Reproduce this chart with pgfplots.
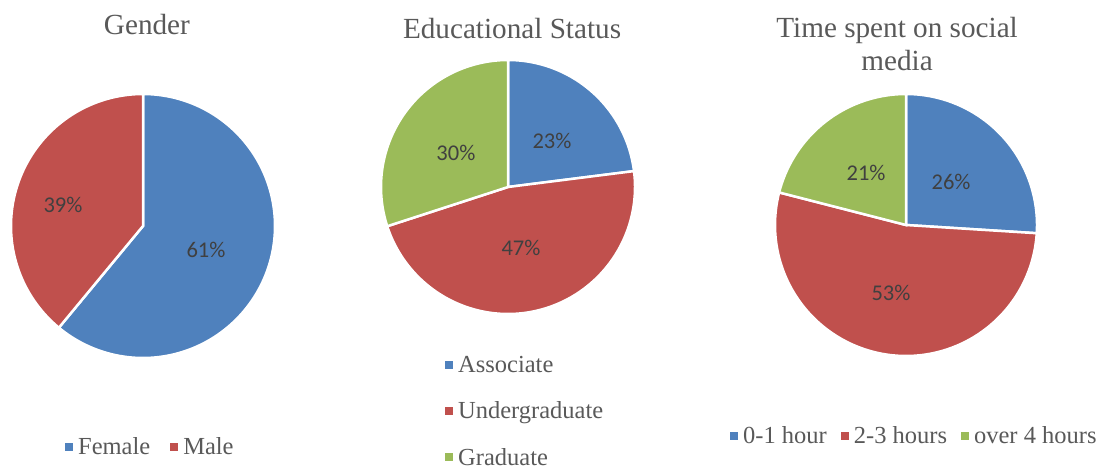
\documentclass[border=0pt]{standalone}
\usepackage{pgfplots}
\pgfplotsset{compat=1.18}
\usepackage{fontspec}
\setmainfont{Liberation Serif}
\newfontfamily\lblfont{Carlito}
\definecolor{pieblue}{HTML}{4F81BD}
\definecolor{piered}{HTML}{C0504D}
\definecolor{piegreen}{HTML}{9BBB59}
\definecolor{titlegray}{HTML}{595959}
\definecolor{lblgray}{HTML}{404040}
\pgfplotsset{
  pie/.style={
    anchor=center, hide axis, clip=false,
    xmin=-1, xmax=1, ymin=-1, ymax=1,
    title style={font=\fontsize{29.2}{33}\selectfont, text=titlegray, anchor=center, align=center},
    legend cell align=left,
    legend style={draw=none, fill=none, font=\fontsize{24.5}{28}\selectfont, text=titlegray,
      /tikz/every odd column/.append style={column sep=3pt}},
    legend image code/.code={\fill[##1,draw=none] (0pt,-4pt) rectangle (8pt,4pt);},
  },
  slice/.style={draw=white, line width=2.5pt, samples=150, variable=\t},
}
\tikzset{lbl/.style={font=\lblfont\fontsize{22.5}{26}\selectfont, text=lblgray}}
\begin{document}
\begin{tikzpicture}
\useasboundingbox (0,0) rectangle (1102pt,-470pt);
% Gender
\begin{axis}[pie, at={(143pt,-226pt)}, x=132pt, y=132pt,
  title={Gender}, title style={at={(0.515,1.242)}},
  legend columns=-1,
  legend style={at={(0.528,-0.337)}, anchor=center,
    /tikz/every even column/.append style={column sep=18pt}}]
\addplot[slice, fill=pieblue, domain=-129.6:90] ({cos(\t)},{sin(\t)}) -- (0,0) -- cycle;
\addlegendentry{Female}
\addplot[slice, fill=piered, domain=-270:-129.6] ({cos(\t)},{sin(\t)}) -- (0,0) -- cycle;
\addlegendentry{Male}
\node[lbl] at (axis cs:0.477,-0.18) {61\%};
\node[lbl] at (axis cs:-0.606,0.159) {39\%};
\end{axis}
% Educational status
\begin{axis}[pie, at={(508pt,-187pt)}, x=127pt, y=127pt,
  title={Educational Status}, title style={at={(0.516,1.102)}},
  legend style={at={(0.24,-0.148)}, anchor=north west, row sep=24pt}]
\addplot[slice, fill=pieblue, domain=7.2:90] ({cos(\t)},{sin(\t)}) -- (0,0) -- cycle;
\addlegendentry{Associate}
\addplot[slice, fill=piered, domain=-162:7.2] ({cos(\t)},{sin(\t)}) -- (0,0) -- cycle;
\addlegendentry{Undergraduate}
\addplot[slice, fill=piegreen, domain=-270:-162] ({cos(\t)},{sin(\t)}) -- (0,0) -- cycle;
\addlegendentry{Graduate}
\node[lbl] at (axis cs:0.346,0.362) {23\%};
\node[lbl] at (axis cs:0.102,-0.48) {47\%};
\node[lbl] at (axis cs:-0.41,0.268) {30\%};
\end{axis}
% Time spent
\begin{axis}[pie, at={(906pt,-225pt)}, x=131pt, y=131pt,
  title={Time spent on social\\media}, title style={at={(0.466,1.168)}},
  legend columns=-1,
  legend style={at={(0.532,-0.305)}, anchor=center,
    /tikz/every even column/.append style={column sep=12pt}}]
\addplot[slice, fill=pieblue, domain=-3.6:90] ({cos(\t)},{sin(\t)}) -- (0,0) -- cycle;
\addlegendentry{0-1 hour}
\addplot[slice, fill=piered, domain=-194.4:-3.6] ({cos(\t)},{sin(\t)}) -- (0,0) -- cycle;
\addlegendentry{2-3 hours}
\addplot[slice, fill=piegreen, domain=-270:-194.4] ({cos(\t)},{sin(\t)}) -- (0,0) -- cycle;
\addlegendentry{over 4 hours}
\node[lbl] at (axis cs:0.344,0.328) {26\%};
\node[lbl] at (axis cs:-0.115,-0.519) {53\%};
\node[lbl] at (axis cs:-0.305,0.397) {21\%};
\end{axis}
\end{tikzpicture}
\end{document}
